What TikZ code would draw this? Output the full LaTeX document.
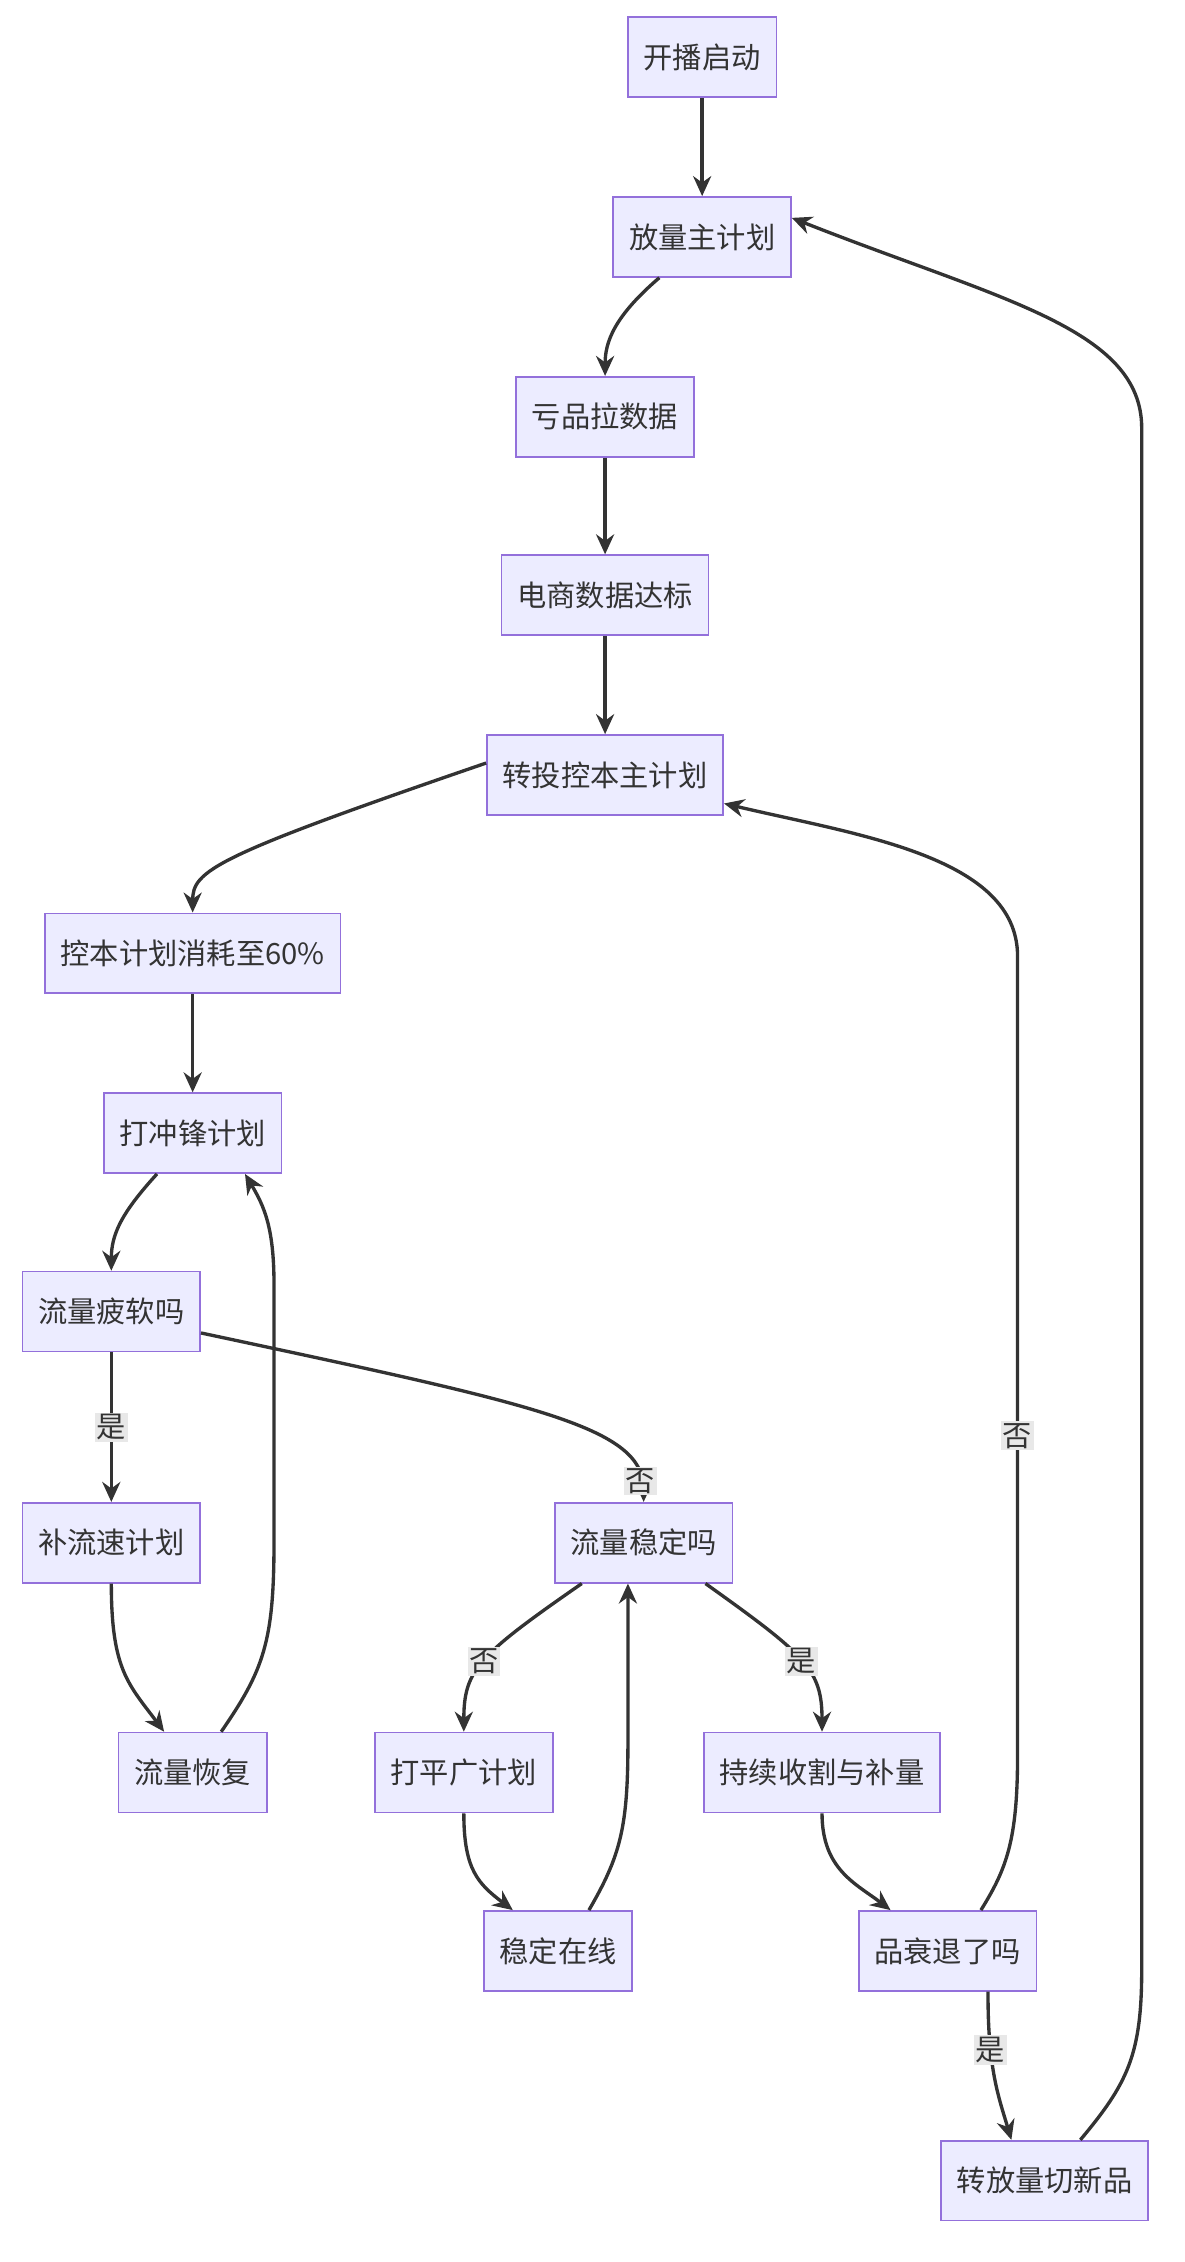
\documentclass[tikz,border=0pt]{standalone}
\usepackage{fontspec}
\setmainfont{Noto Sans CJK SC}
\usetikzlibrary{arrows.meta}
\definecolor{boxfill}{HTML}{ECECFF}
\definecolor{boxline}{HTML}{9370DB}
\definecolor{edge}{HTML}{333333}
\definecolor{lblbg}{HTML}{E8E8E8}
\tikzset{
  stepbox/.style={draw=boxline,fill=boxfill,line width=1pt,minimum height=1.68cm,
    inner xsep=0.33cm,font=\fontsize{17.5}{21}\selectfont,text=edge},
  flow/.style={draw=edge,line width=2pt,-{Stealth[length=0.42cm,width=0.38cm]}},
  lbl/.style={fill=lblbg,inner sep=1pt,font=\fontsize{17.5}{21}\selectfont,text=edge}
}
\begin{document}
\begin{tikzpicture}[x=0.03cm,y=-0.03cm]
    \useasboundingbox (0,0) rectangle (830,1585);
    \node[stepbox] (start) at (492,40) {开播启动};
    \node[stepbox] (push) at (492,166) {放量主计划};
    \node[stepbox] (loss) at (424,292) {亏品拉数据};
    \node[stepbox] (ecom) at (424,417) {电商数据达标};
    \node[stepbox] (cost) at (424,543) {转投控本主计划};
    \node[stepbox] (burn) at (135,668) {控本计划消耗至60\%};
    \node[stepbox] (rush) at (135,794) {打冲锋计划};
    \node[stepbox] (weak) at (78,919) {流量疲软吗};
    \node[stepbox] (speed) at (78,1081) {补流速计划};
    \node[stepbox] (back) at (135,1242) {流量恢复};
    \node[stepbox] (stable) at (451,1081) {流量稳定吗};
    \node[stepbox] (flat) at (325,1242) {打平广计划};
    \node[stepbox] (harvest) at (576,1242) {持续收割与补量};
    \node[stepbox] (online) at (391,1367) {稳定在线};
    \node[stepbox] (decline) at (664,1367) {品衰退了吗};
    \node[stepbox] (switch) at (732,1528) {转放量切新品};
    %
    \draw[flow] (start) -- (push);
    \draw[flow] ([xshift=-0.9cm]push.south) .. controls (430,222) and (424,240) .. (loss.north);
    \draw[flow] (loss) -- (ecom);
    \draw[flow] (ecom) -- (cost);
    \draw[flow] ([yshift=0.25cm]cost.west) .. controls (150,600) and (135,610) .. (burn.north);
    \draw[flow] (burn) -- (rush);
    \draw[flow] ([xshift=-0.75cm]rush.south) .. controls (85,850) and (78,865) .. (weak.north);
    %
    \draw[flow] (weak) -- node[lbl] {是} (speed);
    \draw[flow] ([yshift=-0.45cm]weak.east) .. controls (380,985) and (451,1000) .. node[lbl,pos=0.9] {否} (stable.north);
    \draw[flow] (speed.south) .. controls (78,1170) and (90,1180) .. ([xshift=-0.6cm]back.north);
    \draw[flow] ([xshift=0.6cm]back.north) .. controls (185,1170) and (192,1150) .. (192,1080)
      -- (192,900) .. controls (192,860) and (185,845) .. ([xshift=1.1cm]rush.south);
    %
    \draw[flow] ([xshift=-1.3cm]stable.south) .. controls (335,1160) and (325,1170) .. node[lbl,pos=0.5] {否} (flat.north);
    \draw[flow] ([xshift=1.3cm]stable.south) .. controls (565,1160) and (576,1170) .. node[lbl,pos=0.5] {是} (harvest.north);
    \draw[flow] (flat.south) .. controls (325,1310) and (335,1320) .. ([xshift=-0.95cm]online.north);
    \draw[flow] ([xshift=0.65cm]online.north) .. controls (435,1300) and (440,1280) .. (440,1220)
      -- ([xshift=-0.33cm]stable.south);
    \draw[flow] (harvest.south) .. controls (576,1310) and (600,1320) .. ([xshift=-1.2cm]decline.north);
    %
    \draw[flow] ([xshift=0.7cm]decline.north) .. controls (705,1310) and (713,1290) .. (713,1230)
      -- node[lbl,pos=0.4] {否} (713,670) .. controls (713,600) and (600,585) .. ([yshift=-0.6cm]cost.east);
    \draw[flow] ([xshift=0.85cm]decline.south) .. controls (692,1450) and (700,1470) .. node[lbl,pos=0.3] {是} ([xshift=-0.7cm]switch.north);
    \draw[flow] ([xshift=0.75cm]switch.north) .. controls (790,1460) and (800,1440) .. (800,1380)
      -- (800,300) .. controls (800,230) and (700,210) .. ([yshift=0.4cm]push.east);
\end{tikzpicture}
\end{document}
